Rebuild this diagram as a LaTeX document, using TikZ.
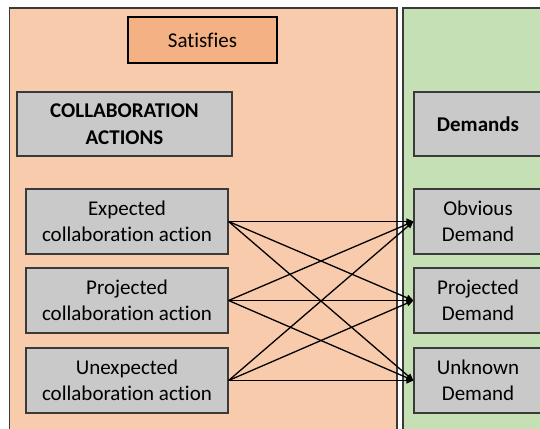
\documentclass[tikz,border=0pt]{standalone}
\usepackage{fontspec}
\setmainfont{Carlito}[Ligatures=NoCommon]
\usetikzlibrary{arrows.meta}
\definecolor{peach}{HTML}{F8CBAD}
\definecolor{salmon}{HTML}{F4B183}
\definecolor{mint}{HTML}{C5E0B4}
\definecolor{boxgray}{HTML}{C9C9C9}
\definecolor{edge}{HTML}{3A3A3A}
\begin{document}
\begin{tikzpicture}[x=1pt,y=-1pt,
    box/.style={draw=edge, line width=1.2pt, fill=boxgray, inner sep=0pt, align=center,
        font=\fontsize{21}{26.5}\selectfont},
    link/.style={line width=1.3pt, -{Triangle[length=7pt,width=6pt]}}]
        \useasboundingbox (0,0) rectangle (540,428);
        \clip (0,0) rectangle (540,428);
        \draw[fill=peach, draw=edge, line width=1.5pt] (9.5,8) rectangle (397,445);
        \draw[fill=mint, draw=edge, line width=1.5pt] (403,8) rectangle (560,445);
        \node [box, fill=salmon, draw=black, line width=1.8pt, minimum width=149pt, minimum height=46pt] (sat) at (202.5,40) {Satisfies};
        \node [box, minimum width=215pt, minimum height=64pt, font=\fontsize{21}{26.5}\selectfont\bfseries] (actions) at (124.5,124) {COLLABORATION\\ACTIONS};
        \node [box, minimum width=128pt, minimum height=64pt, font=\fontsize{21}{26.5}\selectfont\bfseries] (demands) at (478,124) {Demands};
        \node [box, minimum width=202pt, minimum height=65pt] (expected) at (127,221.5) {Expected\\collaboration action};
        \node [box, minimum width=202pt, minimum height=65pt] (projected) at (127,300.5) {Projected\\collaboration action};
        \node [box, minimum width=202pt, minimum height=65pt] (unexpected) at (127,380.5) {Unexpected\\collaboration action};
        \node [box, minimum width=128pt, minimum height=65pt] (obvious) at (478,221.5) {Obvious\\Demand};
        \node [box, minimum width=128pt, minimum height=65pt] (projdemand) at (478,300.5) {Projected\\Demand};
        \node [box, minimum width=128pt, minimum height=65pt] (unknown) at (478,380.5) {Unknown\\Demand};
        \foreach \a in {expected,projected,unexpected}
            \foreach \d in {obvious,projdemand,unknown}
                \draw[link] (\a.east) -- (\d.west);
    \end{tikzpicture}
\end{document}
